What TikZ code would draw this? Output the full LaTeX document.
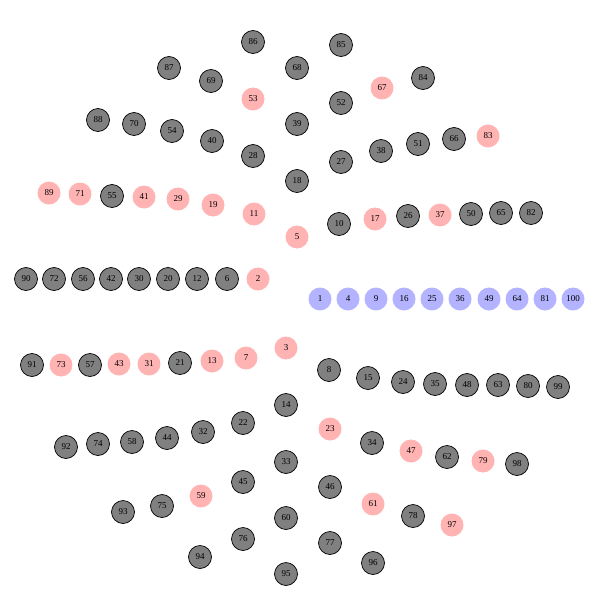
\documentclass[tikz,border=0pt]{standalone}
\usepackage{fontspec}
\setmainfont{Liberation Serif}
\definecolor{pinkf}{HTML}{FFB3B3}
\definecolor{bluef}{HTML}{B3B3FF}
\definecolor{grayf}{HTML}{808080}
\begin{document}
\begin{tikzpicture}[x=1pt,y=-1pt,
  num/.style={circle,minimum size=23pt,inner sep=0pt,font=\fontsize{9}{10}\selectfont},
  sq/.style={num,fill=bluef},
  pr/.style={num,fill=pinkf},
  ot/.style={num,fill=grayf,draw=black,line width=0.7pt}]
\useasboundingbox (0,0) rectangle (600,605);
% squares
\foreach \n/\x in {1/320,4/348,9/376,16/404,25/432,36/460,49/489,64/517,81/545,100/573}
  \node[sq] (n\n) at (\x,299) {\n};
% primes
\foreach \n/\x/\y in {2/258/279,3/286/348,5/297/237,7/246/358,11/254/214,13/212/361,17/375/219,19/213/205,23/330/429,29/178/199,31/149/364,37/440/215,41/144/197,43/119/364,47/411/451,53/253/99,59/201/496,61/373/504,67/382/88,71/80/194,73/61/365,79/483/461,83/488/136,89/49/193,97/452/525}
  \node[pr] (n\n) at (\x,\y) {\n};
% others
\foreach \n/\x/\y in {6/227/279,12/197/279,20/168/279,30/139/279,42/111/279,56/83/279,72/54/279,90/26/279,
  8/329/370,15/368/378,24/403/382,35/435/384,48/467/385,63/498/385,80/528/386,99/558/387,
  10/339/224,26/408/216,50/471/214,65/501/213,82/531/213,
  14/286/405,22/243/423,32/203/432,44/167/438,58/132/442,74/98/444,92/66/447,
  18/297/181,27/341/162,38/381/151,51/418/144,66/454/139,
  21/180/363,57/90/365,91/32/365,55/112/196,
  34/372/443,62/447/457,98/517/464,
  28/253/156,40/212/141,54/172/131,70/134/124,88/98/120,
  33/286/462,45/243/482,75/162/506,93/123/512,
  39/297/124,52/341/103,84/423/78,
  46/330/487,78/413/516,
  69/211/81,87/169/68,
  60/286/518,76/243/539,94/200/557,
  68/297/68,85/341/45,
  77/330/543,96/373/563,
  86/253/42,95/286/574}
  \node[ot] (n\n) at (\x,\y) {\n};
\end{tikzpicture}
\end{document}
